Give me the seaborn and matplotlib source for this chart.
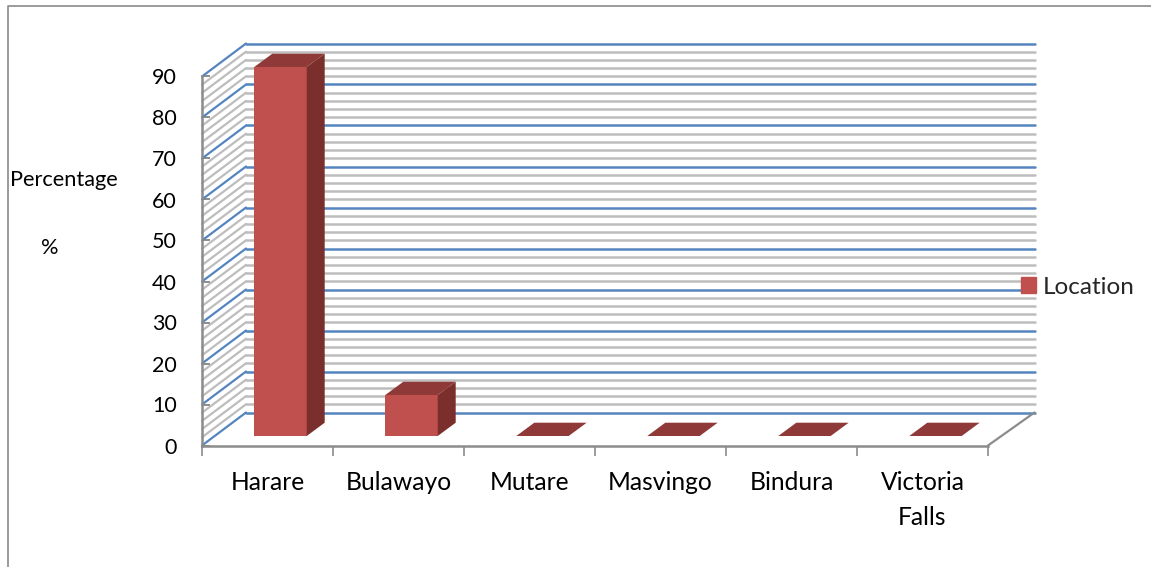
# Location of respondents - fake 3D column chart drawn on a normal seaborn bar plot
import numpy as np
import pandas as pd
import seaborn as sns
import matplotlib.pyplot as plt
from matplotlib.lines import Line2D
from matplotlib.patches import Polygon, Patch
from matplotlib.transforms import Affine2D, IdentityTransform

locations = ['Harare', 'Bulawayo', 'Mutare', 'Masvingo', 'Bindura', 'Victoria\nFalls']
percentages = [90, 10, 0, 0, 0, 0]
y_ticks = list(range(0, 100, 10))
minor_levels = [v for v in range(0, 92, 2) if v % 10 != 0]
series_name = 'Location'

RED = '#c0504d'
RED_TOP = '#8f3a38'
RED_SIDE = '#7b2f2d'
BLUE = '#5585c0'
GREY = '#bdbdbd'
AXIS = '#8c8c8c'

sns.set_theme(style='white')
plt.rcParams['font.family'] = ['Lato', 'DejaVu Sans']

W, H = 1151, 567
fig = plt.figure(figsize=(W / 100, H / 100), dpi=100)
ax = fig.add_axes([202 / W, (H - 445.5) / H, 786 / W, 369 / H])

df = pd.DataFrame({'location': locations, 'percentage': percentages})
sns.barplot(data=df, x='location', y='percentage', color=RED, saturation=1,
            width=0.4, linewidth=0, ax=ax, zorder=5)
ax.set_xlim(-0.5, 5.5)
ax.set_ylim(0, 90)
ax.set_xlabel('')
ax.set_ylabel('')

# depth of the box and of the bars, in pixels
wall_dx, wall_dy = 44, 33
bar_off = (13, 9.5)
bar_dx, bar_dy = 18, 13.3
to_px = ax.transData.transform
px = IdentityTransform()

# back wall lines and left wall diagonals
for level, colour, z in [(v, GREY, 1) for v in minor_levels] + [(v, BLUE, 2) for v in y_ticks]:
    x0, y0 = to_px((-0.5, level))
    ax.add_line(Line2D([x0 + wall_dx, 1034.5], [y0 + wall_dy] * 2, color=colour, lw=1.8,
                       transform=px, clip_on=False, zorder=z))
    ax.add_line(Line2D([x0, x0 + wall_dx], [y0, y0 + wall_dy], color=colour, lw=1.6,
                       transform=px, clip_on=False, zorder=z))

# floor edge on the right
x1, y1 = to_px((5.5, 0))
ax.add_line(Line2D([x1, 1034.5], [y1, y1 + wall_dy], color=AXIS, lw=1.6,
                   transform=px, clip_on=False, zorder=3))

# bars: move the front face into the box, add top and side faces
bar_tr = ax.transData + Affine2D().translate(*bar_off)
for bar in ax.patches[:len(locations)]:
    bar.set_transform(bar_tr)
    bar.set_clip_on(False)
    (xa, ya), (xb, yb) = bar_tr.transform([(bar.get_x(), 0),
                                           (bar.get_x() + bar.get_width(), bar.get_height())])
    top = [(xa, yb), (xb, yb), (xb + bar_dx, yb + bar_dy), (xa + bar_dx, yb + bar_dy)]
    ax.add_patch(Polygon(top, closed=True, fc=RED_TOP, ec='none', transform=px,
                         clip_on=False, zorder=6))
    if yb > ya:
        side = [(xb, ya), (xb + bar_dx, ya + bar_dy), (xb + bar_dx, yb + bar_dy), (xb, yb)]
        ax.add_patch(Polygon(side, closed=True, fc=RED_SIDE, ec='none', transform=px,
                             clip_on=False, zorder=6))

# axes
sns.despine(ax=ax, top=True, right=True)
for s in ['left', 'bottom']:
    ax.spines[s].set_color(AXIS)
    ax.spines[s].set_linewidth(1.8)
ax.set_yticks(y_ticks)
ax.set_xticks(np.arange(-0.5, 6, 1), minor=True)
ax.tick_params(axis='y', which='major', direction='in', left=True, length=6, width=1.4,
               color=AXIS, labelsize=15.5, labelcolor='black', pad=18)
ax.tick_params(axis='x', which='major', bottom=False, labelsize=17.7, labelcolor='black', pad=12.5)
ax.tick_params(axis='x', which='minor', bottom=True, length=7, width=1.2, color=AXIS)
for t in ax.get_xticklabels():
    t.set_linespacing(1.6)
for t in ax.get_yticklabels():
    t.set_verticalalignment('center_baseline')

# y title, in two separate lines as in the picture
fig.text(63.5 / W, 1 - 180 / H, 'Percentage', ha='center', va='center', fontsize=15.7, color='black')
fig.text(50 / W, 1 - 248 / H, '%', ha='center', va='center', fontsize=15.7, color='black')

ax.legend(handles=[Patch(color=RED, label=series_name)], frameon=False, fontsize=17.5,
          loc='center left', bbox_to_anchor=(1014 / W, 1 - 287 / H),
          bbox_transform=fig.transFigure, handlelength=0.62, handleheight=0.62,
          handletextpad=0.25, borderpad=0, borderaxespad=0.3).set_zorder(10)

# outer frame of the picture
fig.add_artist(Line2D([8 / W, 8 / W, 1], [0, 1 - 6 / H, 1 - 6 / H], color='#8a8a8a', lw=1.2))

fig.savefig('out.png', dpi=100)
